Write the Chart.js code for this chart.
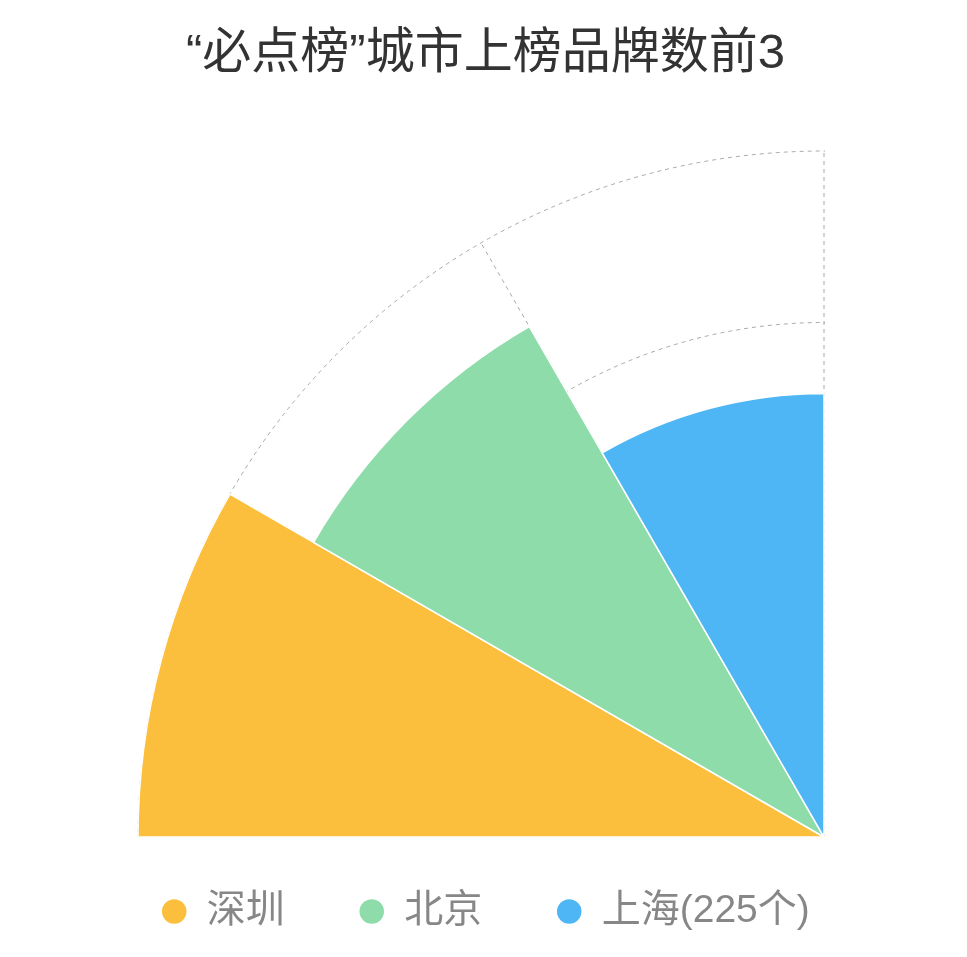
<!DOCTYPE html>
<html>
<head>
<meta charset="utf-8">
<script src="https://cdn.jsdelivr.net/npm/chart.js@4.4.1/dist/chart.umd.min.js"></script>
<style>
  html, body { margin: 0; padding: 0; background: #ffffff; overflow: hidden; }
  #wrap { width: 967px; height: 957px; }
  canvas { display: block; }
</style>
</head>
<body>
<div id="wrap"><canvas id="c" width="967" height="957"></canvas></div>
<script>
// ---- data ----
const TITLE = '“必点榜”城市上榜品牌数前3';
const CITIES = ['深圳', '北京', '上海(225个)'];
const BRAND_COUNTS = [348, 299, 225];
const CITY_COLORS = ['#fbbf3d', '#8ddca9', '#4fb6f5'];
const RING_TICKS = [0, 261, 348];
const SCALE_MAX = 348;
const ANGLE_GUIDES = ['0°', '30°', '60°', '90°', '120°', '150°', '180°', '210°', '240°', '270°', '300°', '330°'];
const SECTOR_ANGLE = 30;

// ---- layout (quarter-circle placement) ----
const QUADRANT = { cx: 824, cy: 837, radius: 686 };
const GRID_COLOR = '#a8a8a8';
const FONT = "'Liberation Sans', 'Noto Sans CJK SC', sans-serif";

function placeQuadrant(scale) {
  scale.xCenter = QUADRANT.cx;
  scale.yCenter = QUADRANT.cy;
  scale.drawingArea = QUADRANT.radius;
  if (!scale._quadrantClip) {
    scale._quadrantClip = true;
    const drawGrid = scale.drawGrid;
    scale.drawGrid = function (area) {
      const ctx = this.ctx;
      ctx.save();
      ctx.beginPath();
      ctx.rect(this.xCenter - this.drawingArea - 2, this.yCenter - this.drawingArea - 2,
               this.drawingArea + 3, this.drawingArea + 2);
      ctx.clip();
      drawGrid.call(this, area);
      ctx.restore();
    };
  }
}

new Chart(document.getElementById('c'), {
  type: 'polarArea',
  data: {
    labels: CITIES,
    datasets: [{
      data: BRAND_COUNTS,
      backgroundColor: CITY_COLORS,
      borderColor: '#ffffff',
      borderWidth: 1.5,
      angle: SECTOR_ANGLE
    }]
  },
  options: {
    responsive: false,
    animation: false,
    devicePixelRatio: 1,
    layout: { padding: { top: 0, bottom: 16, left: 4, right: 0 } },
    scales: {
      r: {
        labels: ANGLE_GUIDES,
        startAngle: 270,
        min: 0,
        max: SCALE_MAX,
        afterBuildTicks: (s) => { s.ticks = RING_TICKS.map(v => ({ value: v })); },
        afterFit: placeQuadrant,
        ticks: { display: false },
        pointLabels: { display: false },
        grid: { circular: true, color: GRID_COLOR, lineWidth: 1 },
        border: { dash: [4, 4] },
        angleLines: { display: true, color: GRID_COLOR, lineWidth: 1, borderDash: [4, 4] }
      }
    },
    plugins: {
      title: {
        display: true,
        text: TITLE,
        color: '#333333',
        font: { family: FONT, size: 49, weight: 'normal' },
        padding: { top: 25, bottom: 20 }
      },
      legend: {
        position: 'bottom',
        labels: {
          usePointStyle: true,
          pointStyle: 'circle',
          boxHeight: 18.4,
          pointStyleWidth: 26,
          padding: 74,
          color: '#878787',
          font: { family: FONT, size: 39 }
        }
      },
      tooltip: { enabled: false }
    }
  }
});
</script>
</body>
</html>
